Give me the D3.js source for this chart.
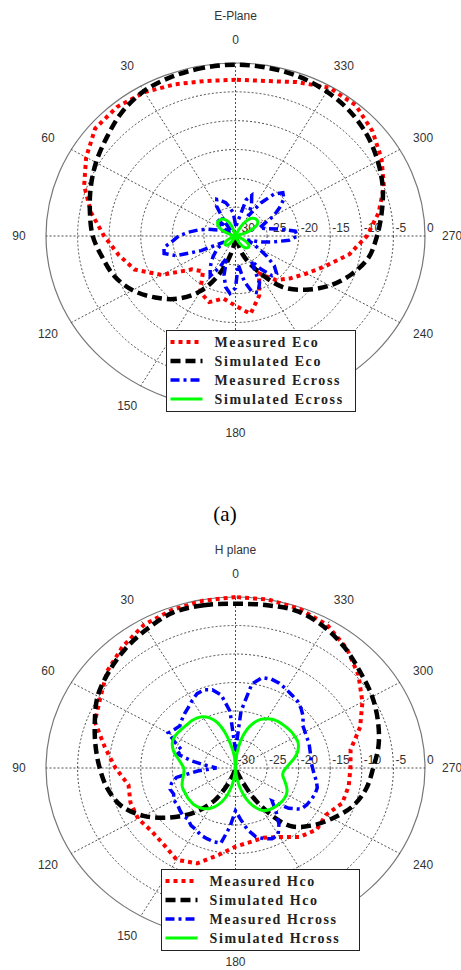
<!DOCTYPE html>
<html>
<head>
<meta charset="utf-8">
<script src="https://cdn.jsdelivr.net/npm/d3@7"></script>
<style>
  body { margin: 0; background: #fff; }
  svg { display: block; }
</style>
</head>
<body>
<svg id="chart" width="461" height="970"></svg>
<script>
// angles in degrees, counter-clockwise from the top
const angles10 = [0, 10, 20, 30, 40, 50, 60, 70, 80, 90, 100, 110, 120, 130, 140, 150, 160, 170,
  180, 190, 200, 210, 220, 230, 240, 250, 260, 270, 280, 290, 300, 310, 320, 330, 340, 350];
const angles5 = [0, 5, 10, 15, 20, 25, 30, 35, 40, 45, 50, 55, 60, 65, 70, 75, 80, 85,
  90, 95, 100, 105, 110, 115, 120, 125, 130, 135, 140, 145, 150, 155, 160, 165, 170, 175,
  180, 185, 190, 195, 200, 205, 210, 215, 220, 225, 230, 235, 240, 245, 250, 255, 260, 265,
  270, 275, 280, 285, 290, 295, 300, 305, 310, 315, 320, 325, 330, 335, 340, 345, 350, 355];

const angleTicks = [0, 30, 60, 90, 120, 150, 180, 210, 240, 270, 300, 330];
const angleLabels = ["0", "30", "60", "90", "120", "150", "180", "", "240", "270", "300", "330"];
const ringTicks = [-30, -25, -20, -15, -10, -5, 0];
const ringLabels = ["-30", "-25", "-20", "-15", "-10", "-5", "0"];

// E-plane (dB)
const measuredEco = [-2.9, -2.7, -2.0, -1.2, -0.8, -1.0, -2.7, -4.5, -6.8, -9.2, -11.2, -13.0,
  -16.5, -21, -22, -18.8, -17.8, -19, -17.9, -16.3, -19, -22.5, -20, -18.6,
  -17, -14.8, -11.7, -9.2, -7.0, -5.0, -3.3, -1.7, -0.4, -0.3, -1.6, -2.7];
const simulatedEco = [-0.3, -0.4, -0.6, -1.0, -2.0, -3.4, -4.5, -5.6, -6.6, -7.4, -8.6, -9.6,
  -11.2, -13.4, -15.8, -19, -23.5, -28, -35, -30, -26.5, -23, -18.5, -15.5,
  -12.8, -10.5, -8.6, -7.6, -6.5, -5.2, -4.0, -2.8, -1.8, -1.1, -0.6, -0.4];
const measuredEcross = [-28, -26, -25, -24, -23.5, -23, -24, -27, -29, -26, -27, -28,
  -29, -28, -27, -25.5, -24, -22.5, -21, -20, -18.5, -18.3, -20, -24,
  -28, -27, -26, -25, -24, -23, -22, -24, -26, -23, -21, -20,
  -21, -25, -22, -20, -19.5, -21, -25, -23, -21, -20.8, -22, -24,
  -26, -27, -28, -26, -24, -21.5, -20.2, -20.5, -23, -25, -26, -25,
  -23, -21.5, -20, -19.4, -20.5, -23, -26, -24, -22.5, -23.5, -27, -28];
const simulatedEcross = [-40, -36, -32, -29.5, -28, -27.2, -26.7, -26.4, -26.3, -26.3, -26.3, -26.6,
  -27, -27.8, -29, -31, -34, -38, -40, -38, -34, -31.5, -30, -29,
  -28.4, -28, -27.8, -27.8, -27.9, -28.3, -29, -30, -32, -35, -38, -40,
  -40, -38, -35, -32, -30, -29, -28.2, -27.6, -27.3, -27.2, -27.2, -27.5,
  -28, -29, -30.5, -33, -36, -39, -40, -37, -33, -30, -28, -26.8,
  -26, -25.7, -25.6, -25.7, -26, -26.6, -27.5, -29, -31, -34, -37, -39];

// H-plane (dB)
const measuredHco = [0, -0.2, -0.5, -1.0, -2.2, -3.5, -5.3, -6.3, -9.0, -11.0, -12.8, -12.3,
  -12.2, -12.7, -12.4, -11.4, -12.2, -14.5, -16.2, -16.8, -17, -16, -14.2, -13.2,
  -13.5, -12, -11.8, -11.8, -11.5, -9.0, -6.8, -4.6, -2.6, -1.0, -0.3, 0];
const simulatedHco = [-1.2, -1.0, -1.0, -1.9, -2.8, -3.8, -4.8, -6.3, -7.5, -8.5, -9.4, -10.7,
  -13.2, -16.5, -19.8, -23.5, -28, -32, -35, -33, -29, -23, -16.8, -14.3,
  -12.3, -10.3, -9.0, -8.2, -7.0, -6.0, -5.0, -4.1, -2.8, -1.6, -0.8, -1.0];
const measuredHcross = [-27, -20, -17, -15.8, -15.4, -15.6, -16.3, -17, -17.5, -18, -18.5, -18.2,
  -17.7, -19.5, -21, -20.5, -23, -25.5, -27, -24, -20.5, -19.5, -19, -19.2,
  -18.7, -18.8, -18.5, -18.2, -18.3, -17.7, -17.5, -17, -16.8, -16.6, -16.6, -19.6,
  -22.5, -21, -19, -17.5, -16.8, -16.3, -16.5, -18, -20, -21.8, -19, -17.4,
  -17, -16.8, -16.6, -16.6, -17, -17.5, -17.8, -18, -17.9, -17.8, -17.6, -17.5,
  -17.3, -17, -16, -15.3, -14.7, -14.4, -14, -13.6, -13.4, -13.6, -15, -20];
const simulatedHcross = [-30, -28, -26, -23.5, -21.5, -20.3, -19.6, -19.3, -19.2, -19.2, -19.1, -19.0,
  -18.9, -19.0, -19.4, -20.0, -20.8, -21.4, -21.8, -21.8, -21.6, -21.3, -21.0, -20.9,
  -20.9, -20.8, -20.8, -20.8, -21.0, -21.3, -21.8, -22.6, -23.7, -25.2, -27, -29,
  -30, -29, -27, -25.2, -23.5, -22.3, -21.4, -21.0, -20.8, -20.7, -20.6, -20.6,
  -20.7, -21.0, -21.5, -22.0, -22.4, -22.4, -22.0, -21.4, -20.6, -19.9, -19.4, -19.1,
  -19.1, -19.1, -19.2, -19.3, -19.4, -19.6, -20.0, -20.6, -21.6, -23.0, -25, -27.5];

const seriesStyle = {
  measuredCo:  { color: "#ff0000", width: 4,   dash: "4,4",     curve: d3.curveLinearClosed },
  simulatedCo: { color: "#000000", width: 4.5, dash: "10,5",    curve: d3.curveCatmullRomClosed },
  measuredX:   { color: "#0000ff", width: 3.5, dash: "9,4,3,4", curve: d3.curveLinearClosed },
  simulatedX:  { color: "#00ff00", width: 3,   dash: null,      curve: d3.curveCatmullRomClosed }
};

const svg = d3.select("#chart");
const rScale = d3.scaleLinear().domain([-30, 0]).range([0, 1]).clamp(true);

function drawPolar(cfg) {
  const g = svg.append("g");
  const proj = (deg, f) => {
    const a = deg * Math.PI / 180;
    return [cfg.cx - f * cfg.rx * Math.sin(a), cfg.cy - f * cfg.ry * Math.cos(a)];
  };

  // rings
  ringTicks.slice(1).forEach(t => {
    const f = rScale(t);
    g.append("ellipse")
      .attr("cx", cfg.cx).attr("cy", cfg.cy)
      .attr("rx", f * cfg.rx).attr("ry", f * cfg.ry)
      .attr("fill", "none")
      .attr("stroke", t === 0 ? "#777" : "#222")
      .attr("stroke-width", t === 0 ? 1.2 : 0.8)
      .attr("stroke-dasharray", t === 0 ? null : "2,2");
  });

  // spokes
  angleTicks.forEach(a => {
    const p = proj(a, 1);
    g.append("line")
      .attr("x1", cfg.cx).attr("y1", cfg.cy)
      .attr("x2", p[0]).attr("y2", p[1])
      .attr("stroke", "#222").attr("stroke-width", 0.8)
      .attr("stroke-dasharray", "2,2");
  });

  // angle labels
  angleTicks.forEach((a, i) => {
    const rad = a * Math.PI / 180;
    g.append("text")
      .attr("x", cfg.cx - 1.143 * cfg.rx * Math.sin(rad))
      .attr("y", cfg.cy - 1.135 * cfg.ry * Math.cos(rad))
      .attr("dy", "0.35em")
      .attr("text-anchor", "middle")
      .style("font", "12px 'Liberation Sans', Arial, sans-serif")
      .style("fill", "#333")
      .text(angleLabels[i]);
  });

  // ring labels
  ringTicks.forEach((t, i) => {
    g.append("text")
      .attr("x", cfg.cx + rScale(t) * cfg.rx + 2)
      .attr("y", cfg.cy - 8)
      .attr("dy", "0.35em")
      .style("font", "12px 'Liberation Sans', Arial, sans-serif")
      .style("fill", "#333")
      .text(ringLabels[i]);
  });

  // title
  g.append("text")
    .attr("x", cfg.cx).attr("y", cfg.titleY)
    .attr("dy", "0.35em")
    .attr("text-anchor", "middle")
    .style("font", "12px 'Liberation Sans', Arial, sans-serif")
    .style("fill", "#333")
    .text(cfg.title);

  // series
  cfg.series.forEach(s => {
    const st = seriesStyle[s.style];
    const pts = s.angles.map((a, i) => proj(a, rScale(s.values[i])));
    const line = d3.line().curve(st.curve);
    g.append("path")
      .attr("d", line(pts))
      .attr("fill", "none")
      .attr("stroke", st.color)
      .attr("stroke-width", st.width)
      .attr("stroke-dasharray", st.dash);
  });

  // legend
  const L = cfg.legend;
  const lg = g.append("g").attr("transform", "translate(" + L.x + "," + L.y + ")");
  lg.append("rect")
    .attr("width", L.w).attr("height", L.h)
    .attr("fill", "#fff").attr("stroke", "#222").attr("stroke-width", 1);
  cfg.series.forEach((s, i) => {
    const st = seriesStyle[s.style];
    const y = 11.5 + i * 19;
    lg.append("line")
      .attr("x1", 4).attr("x2", 36).attr("y1", y).attr("y2", y)
      .attr("stroke", st.color).attr("stroke-width", st.width)
      .attr("stroke-dasharray", st.dash);
    lg.append("text")
      .attr("x", 48).attr("y", y).attr("dy", "0.35em")
      .style("font", "bold 14px 'Liberation Serif', 'Times New Roman', serif")
      .style("letter-spacing", "1.6px")
      .style("fill", "#222")
      .text(s.name);
  });
}

drawPolar({
  cx: 235.5, cy: 236, rx: 189.5, ry: 173, title: "E-Plane", titleY: 16,
  legend: { x: 166.5, y: 330.5, w: 189, h: 81 },
  series: [
    { name: "Measured Eco", angles: angles10, values: measuredEco, style: "measuredCo" },
    { name: "Simulated Eco", angles: angles10, values: simulatedEco, style: "simulatedCo" },
    { name: "Measured Ecross", angles: angles5, values: measuredEcross, style: "measuredX" },
    { name: "Simulated Ecross", angles: angles5, values: simulatedEcross, style: "simulatedX" }
  ]
});

drawPolar({
  cx: 235.5, cy: 768, rx: 189.5, ry: 171, title: "H plane", titleY: 550,
  legend: { x: 161.5, y: 869.5, w: 198, h: 81 },
  series: [
    { name: "Measured Hco", angles: angles10, values: measuredHco, style: "measuredCo" },
    { name: "Simulated Hco", angles: angles10, values: simulatedHco, style: "simulatedCo" },
    { name: "Measured Hcross", angles: angles5, values: measuredHcross, style: "measuredX" },
    { name: "Simulated Hcross", angles: angles5, values: simulatedHcross, style: "simulatedX" }
  ]
});

svg.append("text")
  .attr("x", 225).attr("y", 514).attr("dy", "0.35em")
  .attr("text-anchor", "middle")
  .style("font", "21px 'Liberation Serif', 'Times New Roman', serif")
  .style("fill", "#000")
  .text("(a)");
</script>
</body>
</html>
